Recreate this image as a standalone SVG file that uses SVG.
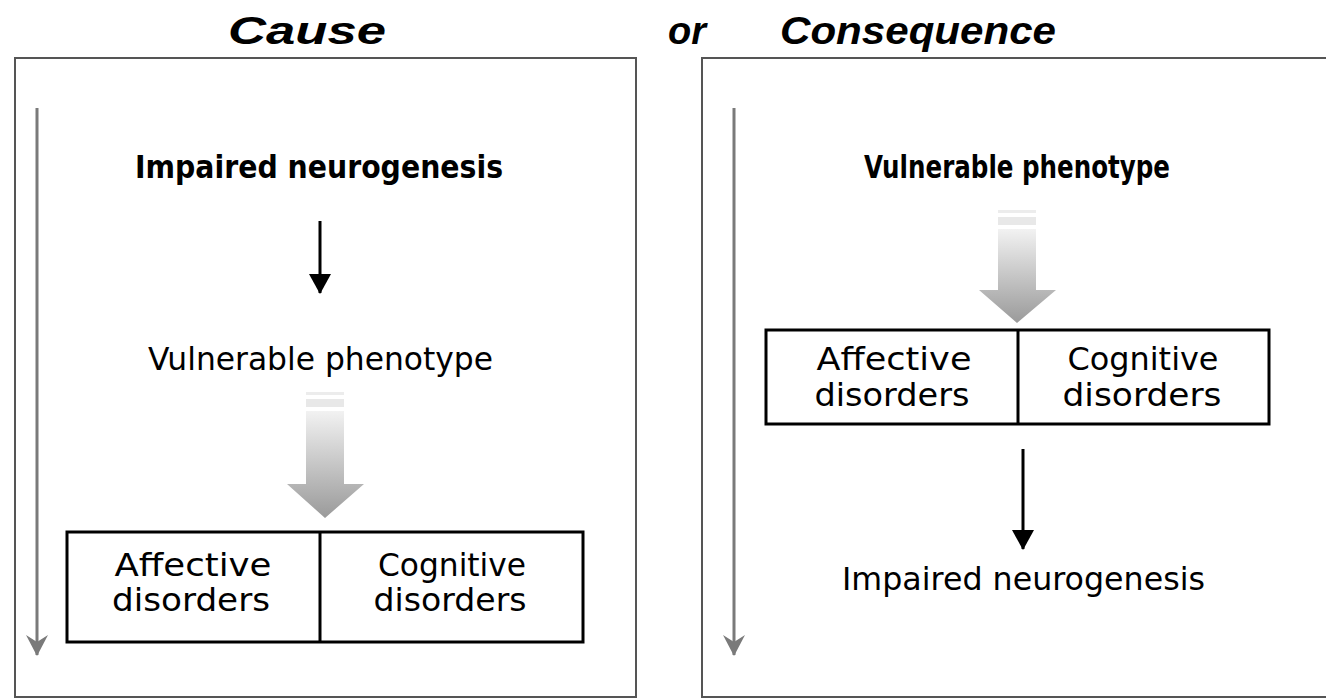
<svg xmlns="http://www.w3.org/2000/svg" width="1326" height="699" viewBox="0 0 1326 699">
  <defs>
    <style>
      .title { font-family: "Liberation Sans", Arial, sans-serif; font-weight: bold; font-style: italic; font-size: 38px; fill: #000; }
      .lbl { font-family: "DejaVu Sans", "Liberation Sans", sans-serif; font-size: 32px; fill: #000; }
      .bold { font-weight: bold; }
      .panel { fill: #fff; stroke: #555; stroke-width: 2; }
      .tbl { fill: #fff; stroke: #000; stroke-width: 3; }
      .timeline { stroke: #7a7a7a; stroke-width: 3; fill: none; }
      .blk { stroke: #000; stroke-width: 3; fill: none; }
    </style>
    <linearGradient id="fade" x1="0" y1="0" x2="0" y2="1">
      <stop offset="0" stop-color="#f2f2f2"/>
      <stop offset="1" stop-color="#9a9a9a"/>
    </linearGradient>
    <marker id="grayHead" markerWidth="22" markerHeight="22" viewBox="0 0 22 22" refX="20" refY="11" orient="auto" markerUnits="userSpaceOnUse">
      <path d="M0,0 L21,11 L0,22 L7,11 Z" fill="#7a7a7a"/>
    </marker>
    <marker id="blackHead" markerWidth="22" markerHeight="22" viewBox="0 0 22 22" refX="19" refY="11" orient="auto" markerUnits="userSpaceOnUse">
      <path d="M0,0 L20,11 L0,22 Z" fill="#000"/>
    </marker>
  </defs>

  <rect width="1326" height="699" fill="#fff"/>

  <g id="titles">
    <text class="title" x="228" y="44" textLength="158" lengthAdjust="spacingAndGlyphs">Cause</text>
    <text class="title" x="668" y="44" textLength="38" lengthAdjust="spacingAndGlyphs">or</text>
    <text class="title" x="780" y="44" textLength="276" lengthAdjust="spacingAndGlyphs">Consequence</text>
  </g>

  <g id="panel-cause">
    <rect class="panel" x="15" y="58" width="621" height="639"/>
  </g>
  <g id="panel-consequence">
    <rect class="panel" x="702" y="58" width="640" height="639"/>
  </g>

  <g id="connectors">
    <line class="timeline" x1="37" y1="108" x2="37" y2="655" marker-end="url(#grayHead)"/>
    <line class="timeline" x1="734" y1="108" x2="734" y2="655" marker-end="url(#grayHead)"/>
    <line class="blk" x1="320" y1="221" x2="320" y2="293" marker-end="url(#blackHead)"/>
    <line class="blk" x1="1023" y1="449" x2="1023" y2="549" marker-end="url(#blackHead)"/>
    <g id="fat-arrow-left">
      <rect x="306" y="392" width="38" height="3" fill="#ececec"/>
      <rect x="306" y="399" width="38" height="8" fill="#e8e8e8"/>
      <path d="M306,411 H344 V484 H364 L325,518 L287,484 H306 Z" fill="url(#fade)"/>
    </g>
    <g id="fat-arrow-right">
      <rect x="998" y="210" width="38" height="3" fill="#ececec"/>
      <rect x="998" y="217" width="38" height="8" fill="#e8e8e8"/>
      <path d="M998,229 H1036 V290 H1056 L1017,323 L979,290 H998 Z" fill="url(#fade)"/>
    </g>
  </g>

  <g id="cause-impaired">
    <text class="lbl bold" x="135" y="178" textLength="368" lengthAdjust="spacingAndGlyphs">Impaired neurogenesis</text>
  </g>
  <g id="cause-vulnerable">
    <text class="lbl" x="148" y="370" textLength="345" lengthAdjust="spacingAndGlyphs">Vulnerable phenotype</text>
  </g>
  <g id="cause-disorders">
    <rect class="tbl" x="67" y="532" width="516" height="110"/>
    <line class="blk" x1="320" y1="532" x2="320" y2="642"/>
    <text class="lbl" x="193" y="576" text-anchor="middle" textLength="157" lengthAdjust="spacingAndGlyphs">Affective</text>
    <text class="lbl" x="191" y="611" text-anchor="middle" textLength="158" lengthAdjust="spacingAndGlyphs">disorders</text>
    <text class="lbl" x="452" y="576" text-anchor="middle" textLength="148" lengthAdjust="spacingAndGlyphs">Cognitive</text>
    <text class="lbl" x="450" y="611" text-anchor="middle" textLength="153" lengthAdjust="spacingAndGlyphs">disorders</text>
  </g>

  <g id="consequence-vulnerable">
    <text class="lbl bold" x="864" y="178" textLength="306" lengthAdjust="spacingAndGlyphs">Vulnerable phenotype</text>
  </g>
  <g id="consequence-disorders">
    <rect class="tbl" x="766" y="330" width="503" height="94"/>
    <line class="blk" x1="1018" y1="330" x2="1018" y2="424"/>
    <text class="lbl" x="894" y="370" text-anchor="middle" textLength="155" lengthAdjust="spacingAndGlyphs">Affective</text>
    <text class="lbl" x="892" y="406" text-anchor="middle" textLength="155" lengthAdjust="spacingAndGlyphs">disorders</text>
    <text class="lbl" x="1143" y="370" text-anchor="middle" textLength="151" lengthAdjust="spacingAndGlyphs">Cognitive</text>
    <text class="lbl" x="1142" y="406" text-anchor="middle" textLength="159" lengthAdjust="spacingAndGlyphs">disorders</text>
  </g>
  <g id="consequence-impaired">
    <text class="lbl" x="842" y="590" textLength="363" lengthAdjust="spacingAndGlyphs">Impaired neurogenesis</text>
  </g>
</svg>
